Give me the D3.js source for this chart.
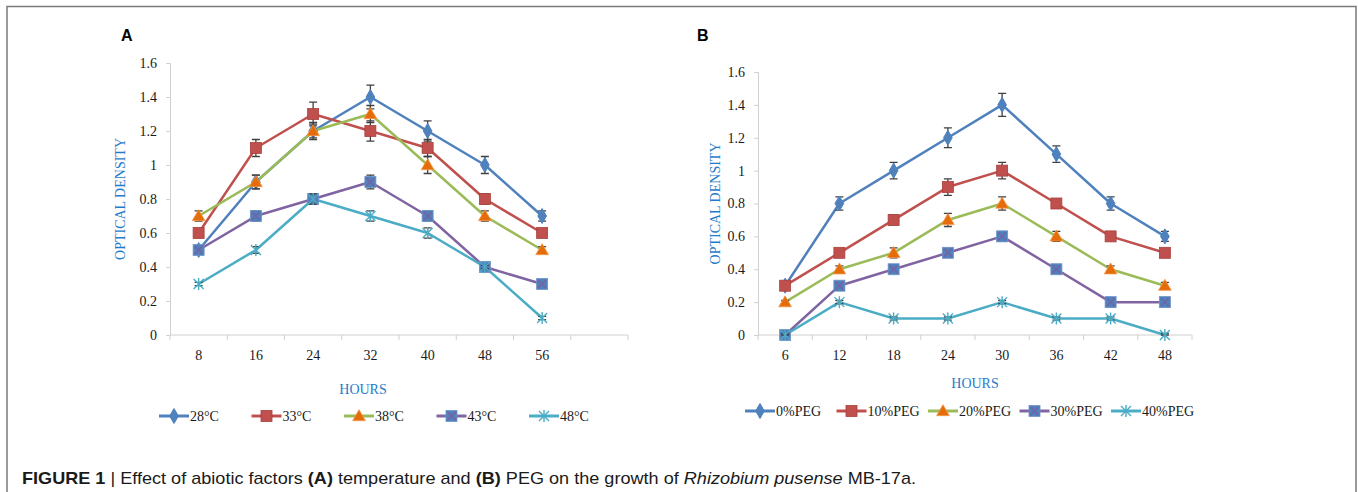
<!DOCTYPE html>
<html>
<head>
<meta charset="utf-8">
<script src="https://cdn.jsdelivr.net/npm/d3@7"></script>
<style>
  body { margin: 0; background: #fff; }
  svg { display: block; }
</style>
</head>
<body>
<script>
//Data - panel A (temperature)
    const hoursA = ["8", "16", "24", "32", "40", "48", "56"];
    const tempSeries = ["28°C", "33°C", "38°C", "43°C", "48°C"];
    const a28 = [0.5, 0.9, 1.2, 1.4, 1.2, 1.0, 0.7];
    const a33 = [0.6, 1.1, 1.3, 1.2, 1.1, 0.8, 0.6];
    const a38 = [0.7, 0.9, 1.2, 1.3, 1.0, 0.7, 0.5];
    const a43 = [0.5, 0.7, 0.8, 0.9, 0.7, 0.4, 0.3];
    const a48 = [0.3, 0.5, 0.8, 0.7, 0.6, 0.4, 0.1];
    const e28 = [0.02, 0.04, 0.04, 0.07, 0.06, 0.05, 0.03];
    const e33 = [0.02, 0.05, 0.07, 0.06, 0.05, 0.03, 0.02];
    const e38 = [0.03, 0.04, 0.05, 0.05, 0.05, 0.03, 0.02];
    const e43 = [0.02, 0.03, 0.03, 0.04, 0.03, 0.01, 0.01];
    const e48 = [0.01, 0.02, 0.03, 0.03, 0.03, 0.01, 0.01];

//Data - panel B (PEG)
    const hoursB = ["6", "12", "18", "24", "30", "36", "42", "48"];
    const pegSeries = ["0%PEG", "10%PEG", "20%PEG", "30%PEG", "40%PEG"];
    const b0  = [0.3, 0.8, 1.0, 1.2, 1.4, 1.1, 0.8, 0.6];
    const b10 = [0.3, 0.5, 0.7, 0.9, 1.0, 0.8, 0.6, 0.5];
    const b20 = [0.2, 0.4, 0.5, 0.7, 0.8, 0.6, 0.4, 0.3];
    const b30 = [0.0, 0.3, 0.4, 0.5, 0.6, 0.4, 0.2, 0.2];
    const b40 = [0.0, 0.2, 0.1, 0.1, 0.2, 0.1, 0.1, 0.0];
    const f0  = [0.01, 0.04, 0.05, 0.06, 0.07, 0.05, 0.04, 0.03];
    const f10 = [0.01, 0.01, 0.03, 0.05, 0.05, 0.03, 0.02, 0.01];
    const f20 = [0.01, 0.02, 0.03, 0.04, 0.04, 0.03, 0.02, 0.02];
    const f30 = [0.01, 0.02, 0.02, 0.02, 0.02, 0.02, 0.02, 0.02];
    const f40 = [0.01, 0.01, 0.01, 0.01, 0.01, 0.01, 0.01, 0.01];

    const yTicks = [0, 0.2, 0.4, 0.6, 0.8, 1, 1.2, 1.4, 1.6];

//Styles
    const lineColors = ["#4F81BD", "#C0504D", "#9BBB59", "#8064A2", "#4BACC6"];
    const markerTypes = ["diamond", "square", "triangle", "xsquare", "asterisk"];
    const serif = "'Liberation Serif', 'Times New Roman', serif";
    const titleBlue = "#1F7CCB";

    const W = 1358, H = 492;
    const svg = d3.select("body").append("svg")
                  .attr("width", W)
                  .attr("height", H);

    // frame
    svg.append("path")
       .attr("d", `M7,${H} L7,6.5 L1356,6.5 L1356,${H}`)
       .attr("fill", "none")
       .attr("stroke", "#7a7a7a")
       .attr("stroke-width", 1.5);

//marker drawing
    function drawMarker(g, type, x, y, color) {
        if (type === "diamond") {
            g.append("path")
             .attr("d", d3.symbol(d3.symbolDiamond, 65)())
             .attr("transform", `translate(${x},${y})`)
             .attr("fill", color).attr("stroke", color);
        } else if (type === "square") {
            g.append("rect")
             .attr("x", x - 5.5).attr("y", y - 5.5)
             .attr("width", 11).attr("height", 11)
             .attr("fill", color).attr("stroke", "#a9403d").attr("stroke-width", 0.8);
        } else if (type === "triangle") {
            g.append("path")
             .attr("d", d3.symbol(d3.symbolTriangle, 70)())
             .attr("transform", `translate(${x},${y + 1})`)
             .attr("fill", "#E46C0A").attr("stroke", "#F79646").attr("stroke-width", 0.8);
        } else if (type === "xsquare") {
            g.append("rect")
             .attr("x", x - 5.5).attr("y", y - 5.5)
             .attr("width", 11).attr("height", 11)
             .attr("fill", "#4F81BD").attr("stroke", "#6f92c6").attr("stroke-width", 0.8);
            g.append("path")
             .attr("d", `M${x - 4},${y - 4}L${x + 4},${y + 4}M${x - 4},${y + 4}L${x + 4},${y - 4}`)
             .attr("stroke", "#7a5fa0").attr("stroke-width", 1.3);
        } else if (type === "asterisk") {
            g.append("path")
             .attr("d", `M${x - 5},${y - 5}L${x + 5},${y + 5}M${x - 5},${y + 5}L${x + 5},${y - 5}M${x},${y - 6}L${x},${y + 6}`)
             .attr("stroke", color).attr("stroke-width", 1.4);
        }
    }

//panel drawing
    function drawPanel(p) {
        const cats = p.hours.slice();
        if (p.blankBand) cats.push(" ");

        const xScale = d3.scaleBand()
                         .domain(cats)
                         .range([p.left, p.right])
                         .padding(0);

        const yScale = d3.scaleLinear()
                         .domain([0, 1.6])
                         .range([p.bottom, p.top]);

        const g = svg.append("g");

        // y axis
        const leftAxis = d3.axisLeft(yScale)
                           .tickValues(yTicks)
                           .tickSize(4)
                           .tickPadding(9)
                           .tickFormat(d => d3.format("~g")(d));
        const ya = g.append("g")
                    .attr("transform", `translate(${p.left},0)`)
                    .call(leftAxis);
        ya.select(".domain").attr("stroke", "#d0d0d0");
        ya.selectAll(".tick line").attr("stroke", "#d0d0d0");
        ya.selectAll(".tick text")
          .attr("font-family", serif).attr("font-size", 14).attr("fill", "#1a1a1a");

        // x axis (labels only), with ticks on band edges
        const bottomAxis = d3.axisBottom(xScale).tickSize(0).tickPadding(15);
        const xa = g.append("g")
                    .attr("transform", `translate(0,${p.bottom})`)
                    .call(bottomAxis);
        xa.select(".domain").remove();
        xa.selectAll(".tick text")
          .attr("font-family", serif).attr("font-size", 14).attr("fill", "#1a1a1a");

        g.append("line")
         .attr("x1", p.left).attr("x2", p.right)
         .attr("y1", p.bottom).attr("y2", p.bottom)
         .attr("stroke", "#d0d0d0");
        g.selectAll(".xedge")
         .data(cats.map(c => xScale(c)).concat([p.right]))
         .enter().append("line")
         .attr("x1", d => d).attr("x2", d => d)
         .attr("y1", p.bottom).attr("y2", p.bottom + 5)
         .attr("stroke", "#d0d0d0");

        // axis titles
        g.append("text")
         .attr("x", (p.left + p.right) / 2 + p.hoursDx)
         .attr("y", p.hoursY)
         .attr("text-anchor", "middle")
         .attr("font-family", serif).attr("font-size", 14)
         .attr("fill", titleBlue)
         .text("HOURS");
        g.append("text")
         .attr("transform", `translate(${p.yTitleX},${(p.top + p.bottom) / 2}) rotate(-90)`)
         .attr("text-anchor", "middle")
         .attr("font-family", serif).attr("font-size", 14)
         .attr("fill", titleBlue)
         .text("OPTICAL DENSITY");

        // panel letter
        g.append("text")
         .attr("x", p.letterX).attr("y", 41)
         .attr("font-family", "'Liberation Sans', Arial, sans-serif")
         .attr("font-size", 16).attr("font-weight", "bold")
         .text(p.letter);

        const cx = i => xScale(p.hours[i]) + xScale.bandwidth() / 2;

        // lines
        const line = d3.line()
                       .x((d, i) => cx(i))
                       .y(d => yScale(d));
        p.values.forEach((vals, s) => {
            g.append("path")
             .datum(vals)
             .attr("d", line)
             .attr("fill", "none")
             .attr("stroke", lineColors[s])
             .attr("stroke-width", 2.5)
             .attr("stroke-linejoin", "round");
        });

        // error bars and markers
        p.values.forEach((vals, s) => {
            const eg = g.append("g");
            vals.forEach((v, i) => {
                const e = p.errors[s][i];
                const x = cx(i);
                const y1 = yScale(v + e), y2 = yScale(Math.max(0, v - e));
                eg.append("path")
                  .attr("d", `M${x},${y1}L${x},${y2}M${x - 4},${y1}L${x + 4},${y1}M${x - 4},${y2}L${x + 4},${y2}`)
                  .attr("stroke", "#404040").attr("stroke-width", 1.3).attr("fill", "none");
            });
            vals.forEach((v, i) => drawMarker(eg, markerTypes[s], cx(i), yScale(v), lineColors[s]));
        });

        // legend
        p.names.forEach((name, s) => {
            const lx = p.legendX + s * p.legendStep;
            const ly = p.legendY;
            const lg = g.append("g");
            lg.append("line")
              .attr("x1", lx).attr("x2", lx + 30)
              .attr("y1", ly).attr("y2", ly)
              .attr("stroke", lineColors[s]).attr("stroke-width", 3);
            drawMarker(lg, markerTypes[s], lx + 15, ly, lineColors[s]);
            lg.append("text")
              .attr("x", lx + 31).attr("y", ly + 5)
              .attr("font-family", serif).attr("font-size", 14).attr("fill", "#1a1a1a")
              .text(name);
        });
    }

    drawPanel({
        letter: "A", letterX: 121,
        hours: hoursA, blankBand: true,
        values: [a28, a33, a38, a43, a48],
        errors: [e28, e33, e38, e43, e48],
        names: tempSeries,
        left: 170, right: 628, top: 63, bottom: 335,
        hoursY: 394, hoursDx: -36, yTitleX: 125,
        legendX: 159, legendStep: 92.5, legendY: 416
    });

    drawPanel({
        letter: "B", letterX: 697,
        hours: hoursB, blankBand: false,
        values: [b0, b10, b20, b30, b40],
        errors: [f0, f10, f20, f30, f40],
        names: pegSeries,
        left: 758, right: 1192, top: 72, bottom: 335,
        hoursY: 388, hoursDx: 0, yTitleX: 720,
        legendX: 745, legendStep: 91.5, legendY: 411
    });

    // caption
    const cap = svg.append("text")
                   .attr("x", 22).attr("y", 484)
                   .attr("font-family", "'Liberation Sans', Arial, sans-serif")
                   .attr("font-size", 17)
                   .attr("textLength", 894)
                   .attr("lengthAdjust", "spacingAndGlyphs")
                   .attr("fill", "#1a1a1a");
    cap.append("tspan").attr("font-weight", "bold").text("FIGURE 1");
    cap.append("tspan").text(" | ");
    cap.append("tspan").text("Effect of abiotic factors ");
    cap.append("tspan").attr("font-weight", "bold").text("(A)");
    cap.append("tspan").text(" temperature and ");
    cap.append("tspan").attr("font-weight", "bold").text("(B)");
    cap.append("tspan").text(" PEG on the growth of ");
    cap.append("tspan").attr("font-style", "italic").text("Rhizobium pusense");
    cap.append("tspan").text(" MB-17a.");
</script>
</body>
</html>
